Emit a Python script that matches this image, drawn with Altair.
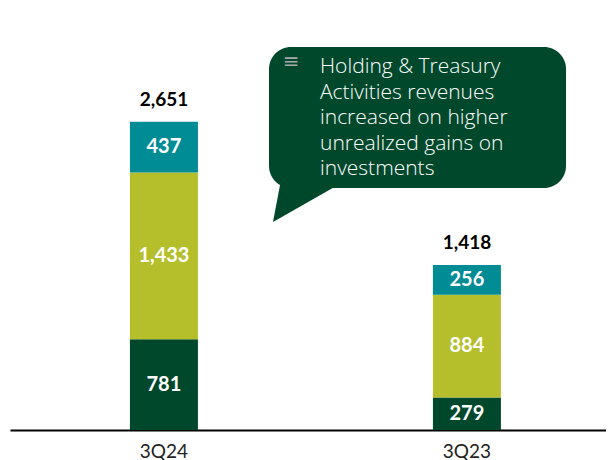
import altair as alt
import pandas as pd

periods = ["3Q24", "3Q23"]
segments = ["Base", "Middle", "Holding & Treasury"]
base_vals = [781, 279]
middle_vals = [1433, 884]
top_vals = [437, 256]
totals = [2651, 1418]
colors = ["#00482B", "#B4BF2B", "#008C95"]
note_lines = ["Holding & Treasury", "Activities revenues", "increased on higher",
              "unrealized gains on", "investments"]

rows = []
for i, p in enumerate(periods):
    for j, (seg, vals) in enumerate(zip(segments, [base_vals, middle_vals, top_vals])):
        rows.append({"period": p, "segment": seg, "order": j, "value": vals[i]})
df = pd.DataFrame(rows)
df_tot = pd.DataFrame({"period": periods, "total": totals})

FONT = "Lato"
xscale = alt.Scale(domain=periods, paddingInner=0.7756, paddingOuter=0.3713, align=0.533)
xenc = alt.X("period:N", sort=periods, title=None, scale=xscale,
             axis=alt.Axis(domainColor="black", domainWidth=2, ticks=False,
                           labelFontSize=19, labelColor="#222222", labelFont=FONT,
                           labelPadding=12, labelAngle=0))
yscale = alt.Scale(domain=[0, 3630])

base = alt.Chart(df).transform_stack(
    stack="value", groupby=["period"], as_=["v0", "v1"],
    sort=[alt.SortField("order", "ascending")]
).transform_calculate(mid="(datum.v0 + datum.v1) / 2")

bars = base.mark_bar().encode(
    x=xenc,
    y=alt.Y("v0:Q", scale=yscale, axis=None),
    y2="v1:Q",
    color=alt.Color("segment:N", scale=alt.Scale(domain=segments, range=colors), legend=None),
)

labels = base.mark_text(color="white", fontWeight="bold", fontSize=20, font=FONT,
                        baseline="middle").encode(
    x=alt.X("period:N", sort=periods),
    y=alt.Y("mid:Q", scale=yscale),
    text=alt.Text("value:Q", format=","),
)

tot = alt.Chart(df_tot).mark_text(color="black", fontWeight="bold", fontSize=19, font=FONT,
                                   baseline="middle", dy=-22).encode(
    x=alt.X("period:N", sort=periods),
    y=alt.Y("total:Q", scale=yscale),
    text=alt.Text("total:Q", format=","),
)

one = pd.DataFrame({"k": [0]})
box = alt.Chart(one).mark_rect(color="#00482B", cornerRadius=22).encode(
    x=alt.value(259), x2=alt.value(556), y=alt.value(39), y2=alt.value(180))

tail = alt.Chart(one).mark_point(shape="M 11 -3 L 69 -3 L 4 34 Z", size=4, filled=True,
                                  fill="#00482B", strokeWidth=0, opacity=1).encode(
    x=alt.value(259), y=alt.value(180))

icon = alt.Chart(one).mark_text(text="≡", color="#A8A8A8", fontSize=20, font="DejaVu Sans",
                                 baseline="middle", align="center").encode(
    x=alt.value(281), y=alt.value(54))

note_layers = []
for i, line in enumerate(note_lines):
    note_layers.append(
        alt.Chart(one).mark_text(text=line, color="white", fontSize=21, font="Open Sans",
                                 fontWeight=300, align="left", baseline="alphabetic").encode(
            x=alt.value(310), y=alt.value(65 + i * 25.5))
    )

chart = alt.layer(bars, labels, tot, box, tail, icon, *note_layers).properties(
    width=596, height=422,
    autosize=alt.AutoSizeParams(type="none"),
    padding={"left": 2, "top": 0, "right": 0, "bottom": 30},
).configure_view(stroke=None)

chart.save("out.html", embed_options={"renderer": "svg", "actions": False})
